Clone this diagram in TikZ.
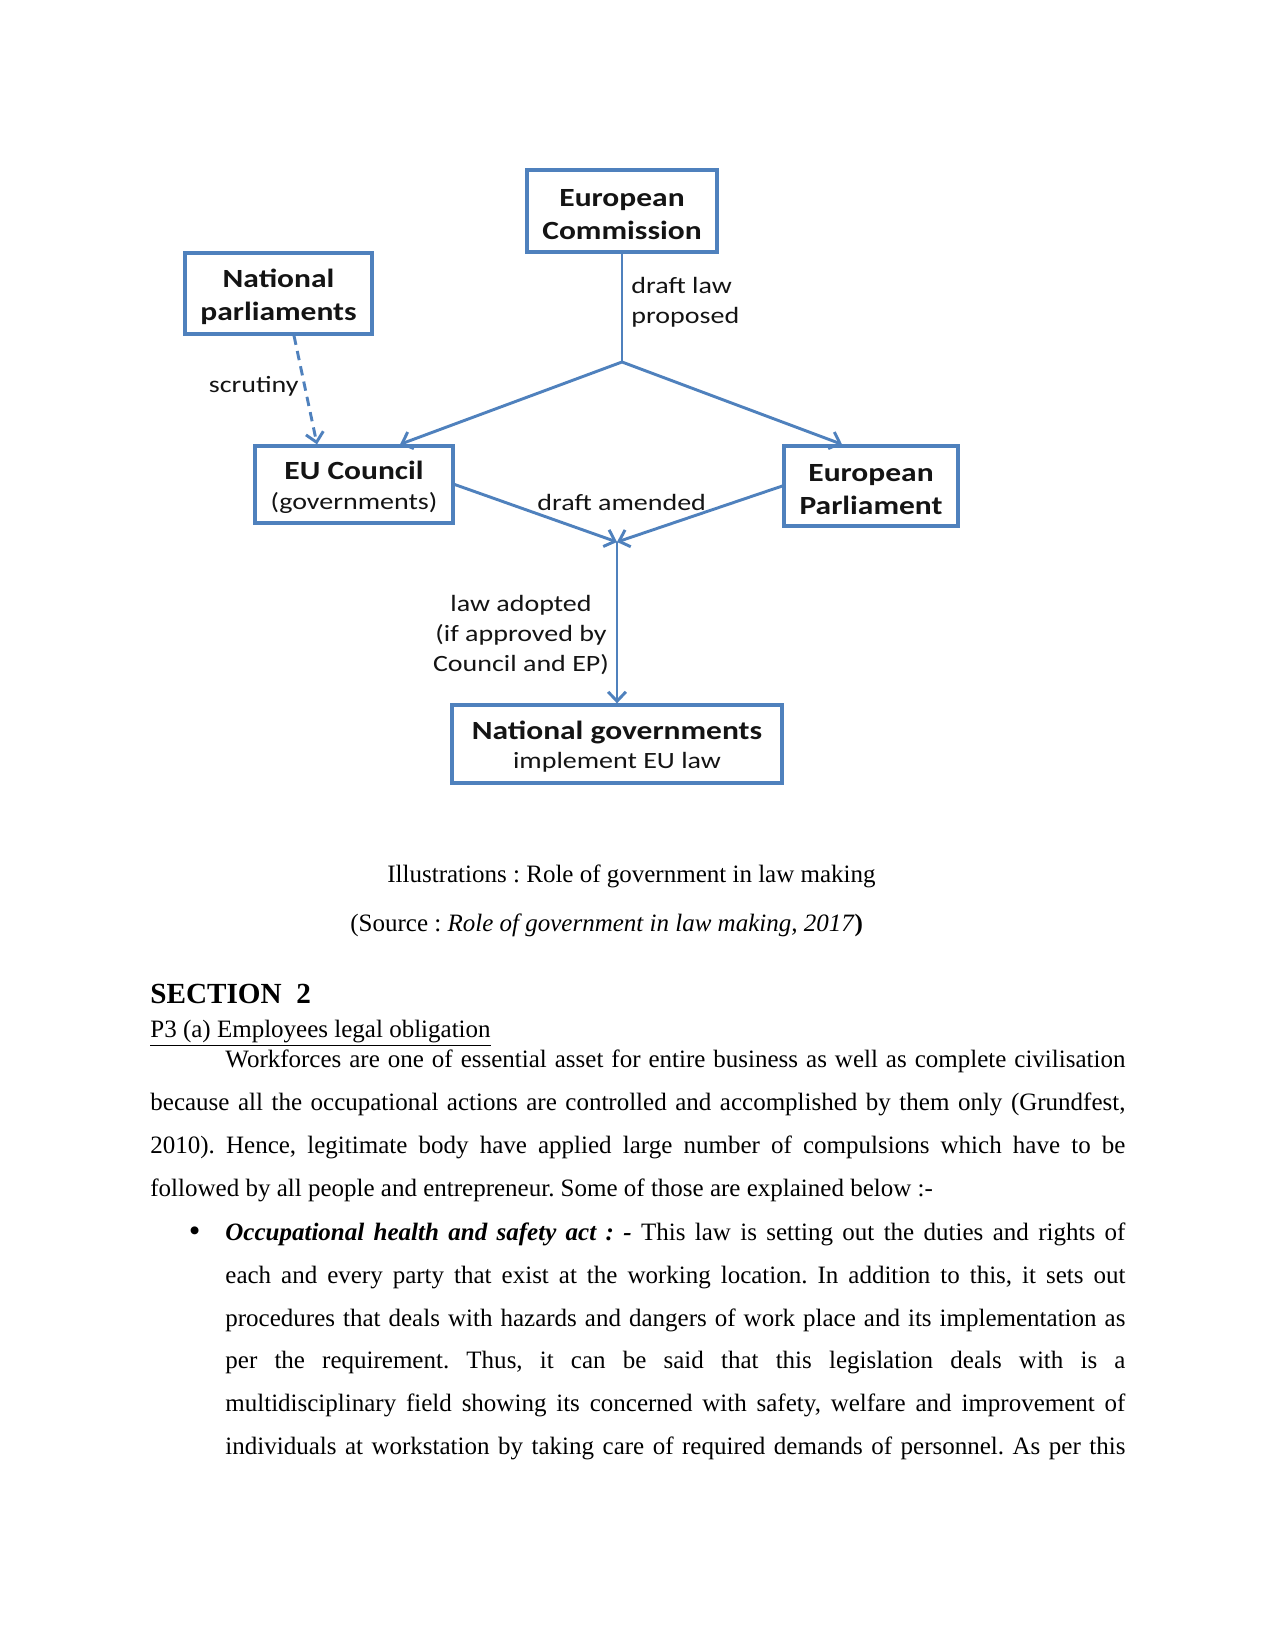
\documentclass[tikz,border=0pt]{standalone}
\usepackage{fontspec}
\setmainfont{Liberation Serif}
\newfontfamily\diag[FakeStretch=1.2]{Carlito}
\usetikzlibrary{arrows.meta,calc}
\definecolor{boxblue}{RGB}{79,129,189}
\definecolor{txt}{RGB}{20,20,20}
\tikzset{
  ebox/.style={draw=boxblue, line width=1.6pt, inner sep=0pt, align=center, text=txt,
    font=\diag\bfseries\fontsize{12.6}{15.8}\selectfont},
  conn/.style={draw=boxblue, line width=1.4pt},
  arr/.style={conn, -{Straight Barb[length=4.5pt,width=8.5pt]}},
  dashconn/.style={arr, dash pattern=on 4.5pt off 3pt},
  lbl/.style={inner sep=0pt, text=txt, align=center, font=\diag\fontsize{11.2}{14.4}\selectfont},
  body/.style={inner sep=0pt, anchor=base west, font=\fontsize{12}{14}\selectfont},
}
\newcommand{\regline}[1]{{\mdseries\fontsize{11.2}{14.4}\selectfont #1}}
\newcommand{\jline}[2]{\hbox to #1{#2}}
\newcommand{\tstrut}{\rule{0pt}{11.8pt}}
\frenchspacing
\begin{document}
\begin{tikzpicture}[x=0.48pt,y=-0.48pt]
\path[use as bounding box, fill=white] (0,0) rectangle (1275,1650);

% boxes
\node[ebox, minimum width=190*0.48pt, minimum height=82*0.48pt] (ec) at (622,211) {\tstrut European\\Commission};
\node[ebox, minimum width=187*0.48pt, minimum height=81*0.48pt] (np) at (278.5,293.5) {\tstrut National\\parliaments};
\node[ebox, minimum width=198*0.48pt, minimum height=77*0.48pt] (euc) at (354,484.5) {\tstrut EU Council\\[-1.4pt]\regline{(governments)}};
\node[ebox, minimum width=174*0.48pt, minimum height=80*0.48pt] (ep) at (871,486) {\tstrut European\\Parliament};
\node[ebox, minimum width=330*0.48pt, minimum height=78*0.48pt] (ng) at (617,744) {\tstrut National governments\\[-1.9pt]\regline{implement EU law}};

\coordinate (s) at (622,362);
\coordinate (j) at (617,542);

% connectors
\draw[conn] (ec.south) -- (s);
\draw[arr] (s) -- ($(euc.north)+(46,0)$);
\draw[arr] (s) -- ($(ep.north)+(-29,0)$);
\draw[dashconn] ($(np.south)+(15.5,0)$) -- ($(euc.north)+(-37,0)$);
\draw[arr] (euc.east) -- (j);
\draw[arr] (ep.west) -- (j);
\draw[arr] (j) -- (j |- ng.north);

% labels
\node[lbl, align=left, anchor=west] (l1) at (631,302) {draft law\\proposed};
\node[lbl, anchor=base east] (l2) at (299,393) {scrutiny};
\node[lbl, anchor=base west] (l3) at (537,510) {draft amended};
\node[lbl] (l4) at (521,635) {law adopted\\(if approved by\\Council and EP)};

% caption and text
\node[body] (cap1) at (387,882) {Illustrations : Role of government in law making};
\node[body] (cap2) at (350,931) {(Source : \textit{Role of government in law making, 2017}\textbf{)}};
\node[body, font=\bfseries\fontsize{14}{16}\selectfont] (sec) at (150,1003) {SECTION\ \ 2};
\node[body] (sub) at (150,1037) {\underline{P3 (a) Employees legal obligation}};

\node[body] (p1) at (225,1067) {\jline{432pt}{Workforces are one of essential asset for entire business as well as complete civilisation}};
\node[body] (p2) at (150,1110) {\jline{468pt}{because all the occupational actions are controlled and accomplished by them only (Grundfest,}};
\node[body] (p3) at (150,1153) {\jline{468pt}{2010). Hence, legitimate body have applied large number of compulsions which have to be}};
\node[body] (p4) at (150,1196) {followed by all people and entrepreneur. Some of those are explained below :-};

\node[body, font=\fontsize{14}{16}\selectfont] (bul) at (189,1240) {\textbf{\textit{•}}};
\node[body] (b1) at (225,1240) {\jline{432pt}{\textbf{\textit{Occupational health and safety act : -}} This law is setting out the duties and rights of}};
\node[body] (b2) at (225,1283) {\jline{432pt}{each and every party that exist at the working location. In addition to this, it sets out}};
\node[body] (b3) at (225,1326) {\jline{432pt}{procedures that deals with hazards and dangers of work place and its implementation as}};
\node[body] (b4) at (225,1368) {\jline{432pt}{per the requirement. Thus, it can be said that this legislation deals with is a}};
\node[body] (b5) at (225,1411) {\jline{432pt}{multidisciplinary field showing its concerned with safety, welfare and improvement of}};
\node[body] (b6) at (225,1454) {\jline{432pt}{individuals at workstation by taking care of required demands of personnel. As per this}};
\end{tikzpicture}
\end{document}
